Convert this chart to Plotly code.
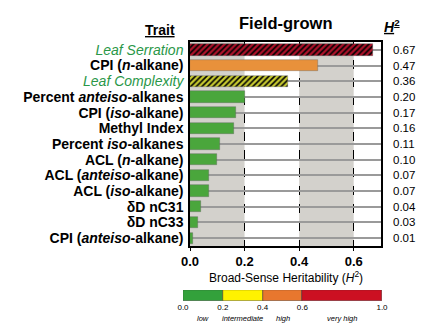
import plotly.graph_objects as go

traits = [
    "Leaf Serration", "CPI (<i>n</i>-alkane)", "Leaf Complexity",
    "Percent <i>anteiso</i>-alkanes", "CPI (<i>iso</i>-alkane)", "Methyl Index",
    "Percent <i>iso</i>-alkanes", "ACL (<i>n</i>-alkane)", "ACL (<i>anteiso</i>-alkane)",
    "ACL (<i>iso</i>-alkane)", "δD nC31", "δD nC33", "CPI (<i>anteiso</i>-alkane)",
]
h2_values = [0.67, 0.47, 0.36, 0.20, 0.17, 0.16, 0.11, 0.10, 0.07, 0.07, 0.04, 0.03, 0.01]
morph_traits = ["Leaf Serration", "Leaf Complexity"]

scale_breaks = [0.0, 0.2, 0.4, 0.6, 1.0]
scale_labels = ["low", "intermediate", "high", "very high"]
scale_colors = ["#33a13b", "#fff200", "#e8772e", "#cc1022"]
bar_colors_by_class = ["#4aa63c", "#c9cc30", "#e8913b", "#ad1129"]

FONT = "Arial, Liberation Sans, Helvetica, sans-serif"
GREEN_TXT = "#2a9748"

def h2_class(v):
    for i in range(len(scale_breaks) - 1):
        if v <= scale_breaks[i + 1]:
            return i
    return len(scale_breaks) - 2

ypos = list(range(len(traits)))
ticktext = []
for t in traits:
    if t in morph_traits:
        ticktext.append(f"<span style='font-weight:normal;color:{GREEN_TXT}'><i>{t}</i></span>")
    else:
        ticktext.append(t)

fig = go.Figure()
# one trace per bar so that scalar colours allow black hatching
for t, y, v in zip(traits, ypos, h2_values):
    col = bar_colors_by_class[h2_class(v)]
    marker = dict(color=col, line=dict(color="rgba(90,90,90,0.6)", width=0.6))
    if t in morph_traits:
        marker["pattern"] = dict(shape="/", fgcolor="black", bgcolor=col, fgopacity=1,
                                 size=4, solidity=0.4, fillmode="replace")
    fig.add_trace(go.Bar(x=[v], y=[y], orientation="h", width=0.72, marker=marker,
                         xaxis="x", yaxis="y", showlegend=False, hoverinfo="skip"))

# colour scale legend
widths = [scale_breaks[i + 1] - scale_breaks[i] for i in range(len(scale_colors))]
fig.add_trace(go.Bar(
    x=widths, base=scale_breaks[:-1], y=[0] * len(widths), orientation="h", width=1,
    marker=dict(color=scale_colors, line=dict(color="#333", width=0.5)),
    xaxis="x2", yaxis="y2", showlegend=False, hoverinfo="skip",
))

main_xdom = [7 / 199, 198 / 199]
main_ydom = [55 / 259, 1]
fig.update_layout(
    template="none",
    width=433, height=333,
    margin=dict(l=183, r=51, t=42, b=32, autoexpand=False),
    paper_bgcolor="white", plot_bgcolor="white",
    font=dict(family=FONT, color="black"),
    bargap=0, barmode="overlay",
    xaxis=dict(domain=main_xdom, range=[0, 0.7], anchor="y", automargin=False,
               tickvals=[0, 0.2, 0.4, 0.6], ticktext=["0.0", "0.2", "0.4", "0.6"],
               tickfont=dict(size=13, weight="bold"), ticks="outside", ticklen=3,
               tickcolor="black", showline=True, linecolor="black", linewidth=1.5, mirror=True,
               showgrid=True, gridcolor="black", griddash="dash", gridwidth=1,
               zeroline=False),
    yaxis=dict(domain=main_ydom, range=[len(traits) - 0.5, -0.5], anchor="x",
               automargin=False,
               tickvals=ypos, ticktext=ticktext, tickfont=dict(size=14, weight="bold"),
               ticks="", ticklabelstandoff=2,
               showline=True, linecolor="black", linewidth=1.5, mirror=True,
               showgrid=True, gridcolor="#9a9a9a", gridwidth=1.5, zeroline=False),
    xaxis2=dict(domain=[0, 1], range=[0, 1], anchor="y2", automargin=False,
                tickvals=scale_breaks, ticktext=[f"{v:.1f}" for v in scale_breaks],
                tickfont=dict(size=8), ticks="", showgrid=False, zeroline=False, showline=False),
    yaxis2=dict(domain=[0, 11 / 259], range=[-0.5, 0.5], anchor="x2", automargin=False,
                showticklabels=False, showgrid=False, zeroline=False, showline=False),
)

# shaded bands
for x0, x1 in [(0, 0.2), (0.4, 0.6)]:
    fig.add_shape(type="rect", xref="x", yref="y domain", x0=x0, x1=x1, y0=0, y1=1,
                  fillcolor="#d3d1cc", line=dict(width=0), layer="below")

# H2 values on the right
for y, v in zip(ypos, h2_values):
    fig.add_annotation(x=(391 - 183) / 199, xref="paper", y=y, yref="y", text=f"{v:.2f}",
                       showarrow=False, xanchor="left", font=dict(size=11.5))

fig.add_annotation(x=(main_xdom[0] + main_xdom[1]) / 2, xref="paper", y=main_ydom[0],
                   yref="paper", yanchor="top", yshift=-21,
                   text="Broad-Sense Heritability (<i>H</i><sup>2</sup>)",
                   showarrow=False, font=dict(size=12))
fig.add_annotation(x=(main_xdom[0] + main_xdom[1]) / 2, xref="paper", y=1, yref="paper",
                   yanchor="bottom", yshift=8, text="<b>Field-grown</b>",
                   showarrow=False, font=dict(size=16.5))
fig.add_annotation(x=(143 - 183) / 199, xref="paper", y=1, yref="paper", yanchor="bottom",
                   yshift=2, text="<b><u>Trait</u></b>", showarrow=False, font=dict(size=14))
fig.add_annotation(x=(402 - 183) / 199, xref="paper", y=1, yref="paper", yanchor="bottom",
                   yshift=5, text="<b><u><i>H</i><sup>2</sup></u></b>", showarrow=False,
                   font=dict(size=14))

for i, lab in enumerate(scale_labels):
    mid = (scale_breaks[i] + scale_breaks[i + 1]) / 2
    fig.add_annotation(x=mid, xref="x2", y=0, yref="paper", yanchor="top", yshift=-11,
                       text=f"<i>{lab}</i>", showarrow=False, font=dict(size=7.5))

fig.write_html("out.html", config={"displayModeBar": False},
               post_script="document.body.style.margin='0';")
